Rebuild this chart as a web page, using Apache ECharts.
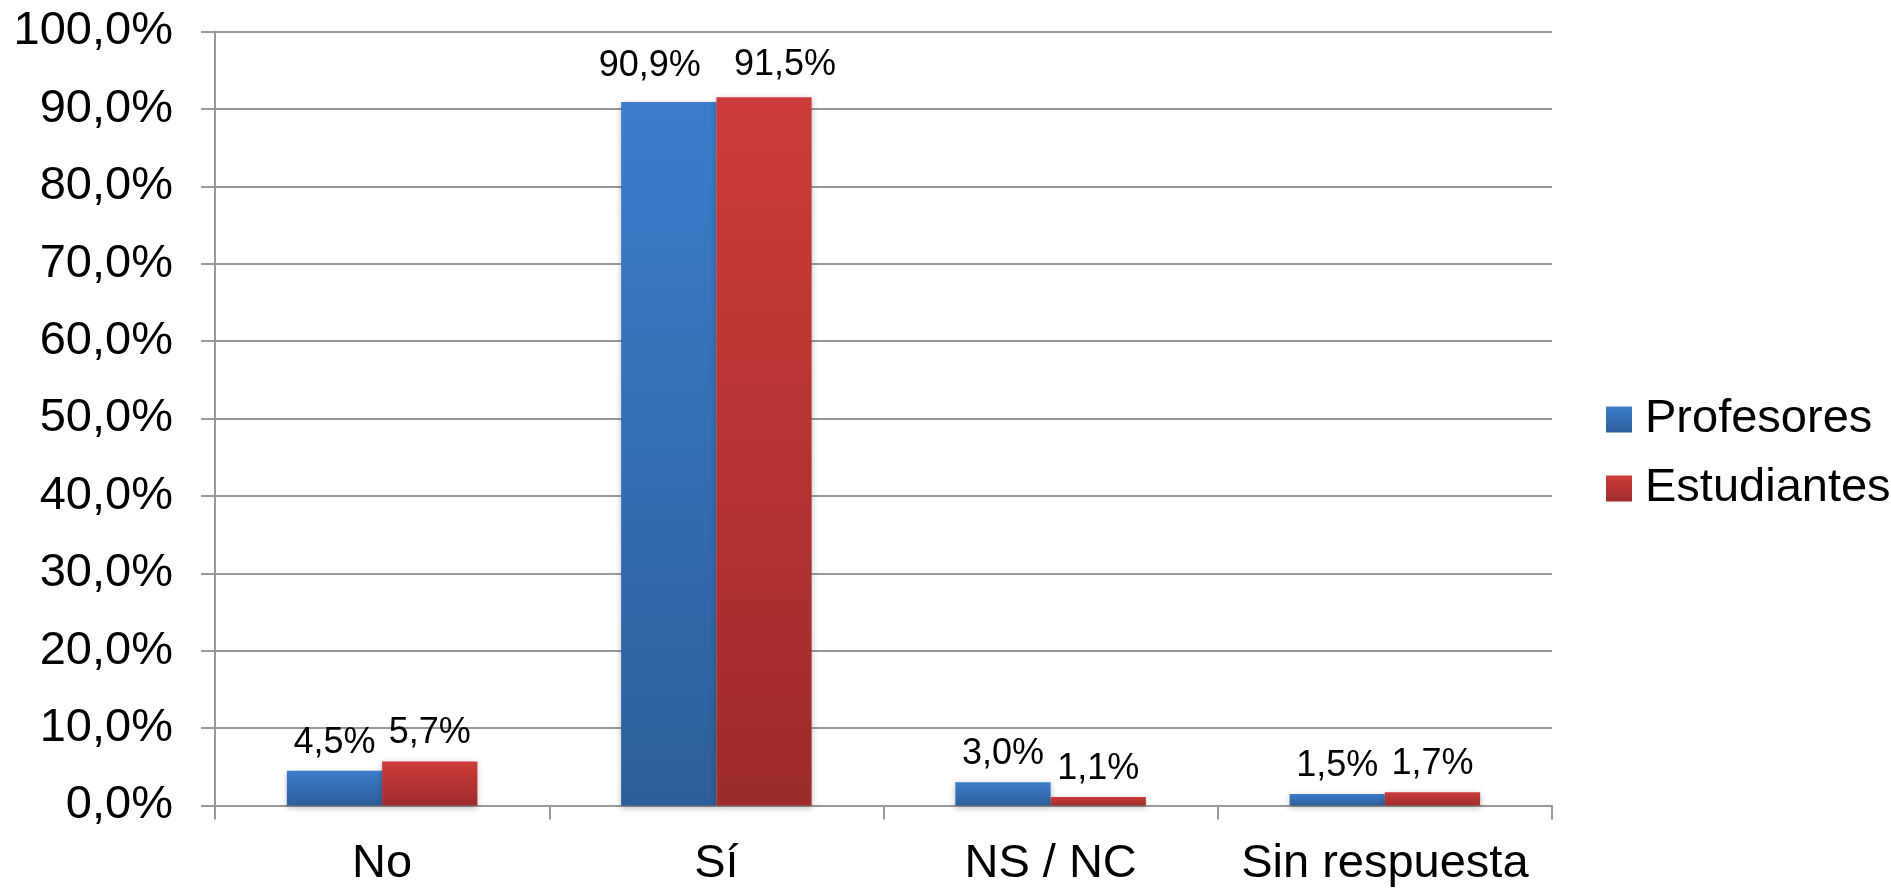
<!DOCTYPE html>
<html>
<head>
<meta charset="utf-8">
<script src="https://cdn.jsdelivr.net/npm/echarts@6/dist/echarts.min.js"></script>
<style>
html,body{margin:0;padding:0;background:#fff;}
#c{width:1891px;height:888px;}
</style>
</head>
<body>
<div id="c"></div>
<script>
const categories = ['No', 'Sí', 'NS / NC', 'Sin respuesta'];
const seriesNames = ['Profesores', 'Estudiantes'];
const profesores = [4.5, 90.9, 3.0, 1.5];
const estudiantes = [5.7, 91.5, 1.1, 1.7];

const FONT = '"Liberation Sans", Arial, sans-serif';
const fmt = v => v.toFixed(1).replace('.', ',') + '%';

function grad(top, bottom) {
  return new echarts.graphic.LinearGradient(0, 0, 0, 1, [
    {offset: 0, color: top}, {offset: 1, color: bottom}
  ]);
}

// Label nudges (as in the source chart, where overlapping labels are spread apart)
const labelNudge = [
  {'Sí': [-19, -8]},
  {'Sí': [21, -4]}
];
function buildData(values, si) {
  return values.map((v, i) => {
    const n = labelNudge[si][categories[i]];
    return n ? {value: v, label: {offset: n}} : v;
  });
}

const chart = echarts.init(document.getElementById('c'));
const labelCfg = {
  show: true, position: 'top', distance: 10,
  fontFamily: FONT, fontSize: 36, color: '#000',
  formatter: p => fmt(p.value)
};
const shadow = {shadowBlur: 6, shadowColor: 'rgba(0,0,0,0.25)', shadowOffsetY: 2};
chart.setOption({
  animation: false,
  backgroundColor: '#fff',
  grid: {left: 215, right: 339, top: 31.5, bottom: 82.5, containLabel: false},
  legend: {
    orient: 'vertical', left: 1601, top: 391,
    itemWidth: 26, itemHeight: 26, itemGap: 22,
    icon: 'rect',
    textStyle: {fontFamily: FONT, fontSize: 47, color: '#000', lineHeight: 47, padding: [0, 0, 0, 8]},
    data: seriesNames
  },
  xAxis: {
    type: 'category', data: categories,
    axisLine: {lineStyle: {color: '#999', width: 2}},
    axisTick: {show: true, interval: 0, length: 14, lineStyle: {color: '#999', width: 2}},
    axisLabel: {interval: 0, fontFamily: FONT, fontSize: 47, color: '#000', margin: 35}
  },
  yAxis: {
    type: 'value', min: 0, max: 100, interval: 10,
    axisLine: {show: true, lineStyle: {color: '#999', width: 2}},
    axisTick: {show: true, length: 14, lineStyle: {color: '#999', width: 2}},
    splitLine: {lineStyle: {color: '#999', width: 2}},
    axisLabel: {fontFamily: FONT, fontSize: 47, color: '#000', margin: 42, formatter: v => fmt(v)}
  },
  series: [
    {
      name: seriesNames[0], type: 'bar', data: buildData(profesores, 0),
      barGap: '0%', barCategoryGap: '43%',
      itemStyle: Object.assign({color: grad('#3C7ECD', '#2D5E9A')}, shadow),
      label: labelCfg
    },
    {
      name: seriesNames[1], type: 'bar', data: buildData(estudiantes, 1),
      barGap: '0%', barCategoryGap: '43%',
      itemStyle: Object.assign({color: grad('#CD3C3A', '#9D2C2A')}, shadow),
      label: labelCfg
    }
  ]
});
</script>
</body>
</html>
